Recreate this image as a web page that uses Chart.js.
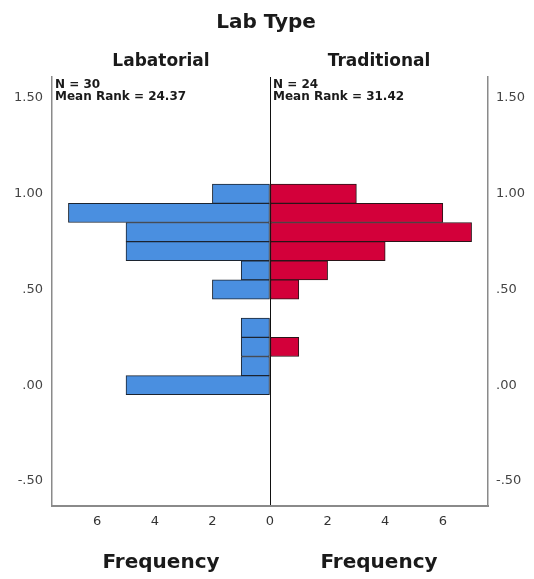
<!DOCTYPE html>
<html>
<head>
<meta charset="utf-8">
<script src="https://cdn.jsdelivr.net/npm/chart.js@4"></script>
<style>
  body { margin: 0; background: #fff; }
  #wrap { width: 534px; height: 579px; }
</style>
</head>
<body>
<div id="wrap"><canvas id="myChart"></canvas></div>
<script>
const binCenters = [1.0, 0.9, 0.8, 0.7, 0.6, 0.5, 0.4, 0.3, 0.2, 0.1, 0.0];
const labatorialCounts = [2, 7, 5, 5, 1, 2, 0, 1, 1, 1, 5];
const traditionalCounts = [3, 6, 7, 4, 2, 1, 0, 0, 1, 0, 0];
const yTickValues = [1.5, 1.0, 0.5, 0.0, -0.5];
const xTickValues = [-6, -4, -2, 0, 2, 4, 6];
const groupNames = ["Labatorial", "Traditional"];
const groupStats = [
  ["N = 30", "Mean Rank = 24.37"],
  ["N = 24", "Mean Rank = 31.42"],
];

const FONT = "'DejaVu Sans', sans-serif";

// left side is drawn as negative frequencies
function toPoints(counts, sign) {
  return binCenters
    .map((y, i) => ({ x: sign * counts[i], y: y }))
    .filter((p) => p.x !== 0);
}

function fmtY(v) {
  return v.toFixed(2).replace(/^(-?)0\./, "$1.");
}

const textPlugin = {
  id: "pyramidText",
  afterDraw(chart) {
    const { ctx, chartArea, scales } = chart;
    const mid = scales.x.getPixelForValue(0);
    const halves = [(chartArea.left + mid) / 2, (mid + chartArea.right) / 2];
    ctx.save();
    ctx.fillStyle = "#1a1a1a";
    ctx.textAlign = "center";
    ctx.textBaseline = "middle";
    ctx.font = "bold 20px " + FONT;
    ctx.fillText("Lab Type", 266, 23);
    ctx.font = "bold 17px " + FONT;
    groupNames.forEach((name, i) => ctx.fillText(name, halves[i], 62));
    ctx.font = "bold 20px " + FONT;
    halves.forEach((x) => ctx.fillText("Frequency", x, 563));
    ctx.textAlign = "left";
    ctx.textBaseline = "alphabetic";
    ctx.font = "bold 12px " + FONT;
    const starts = [chartArea.left + 3, mid + 3];
    groupStats.forEach((lines, i) => {
      lines.forEach((t, j) => ctx.fillText(t, starts[i], chartArea.top + 11 + j * 12));
    });
    ctx.restore();
  },
};

const tickFont = { family: FONT, size: 13 };

let ctx = document.getElementById("myChart").getContext("2d");
let myChart = new Chart(ctx, {
  type: "bar",
  data: {
    datasets: [
      {
        label: groupNames[0],
        data: toPoints(labatorialCounts, -1),
        backgroundColor: "#4a8fe0",
        borderColor: "#1c2430",
        borderWidth: 1,
        borderSkipped: false,
        grouped: false,
        barPercentage: 1,
        categoryPercentage: 1,
      },
      {
        label: groupNames[1],
        data: toPoints(traditionalCounts, 1),
        backgroundColor: "#d3003a",
        borderColor: "#2a1418",
        borderWidth: 1,
        borderSkipped: false,
        grouped: false,
        barPercentage: 1,
        categoryPercentage: 1,
      },
    ],
  },
  options: {
    indexAxis: "y",
    responsive: true,
    maintainAspectRatio: false,
    animation: false,
    layout: { padding: { top: 77, left: 0, right: 0, bottom: 0 } },
    plugins: {
      legend: { display: false },
      tooltip: { enabled: false },
    },
    scales: {
      x: {
        type: "linear",
        min: -7.57,
        max: 7.57,
        afterBuildTicks: (scale) => {
          scale.ticks = xTickValues.map((v) => ({ value: v }));
        },
        afterFit: (scale) => {
          scale.height = 73;
        },
        ticks: {
          callback: (v) => Math.abs(v),
          font: tickFont,
          color: "#333",
          padding: 8,
          maxRotation: 0,
        },
        grid: {
          drawTicks: false,
          color: (c) => (c.tick && c.tick.value === 0 ? "#111" : "rgba(0,0,0,0)"),
          lineWidth: 1,
        },
        border: { display: true, color: "#8a8a8a", width: 2 },
      },
      y: {
        type: "linear",
        position: "left",
        offset: false,
        min: -0.631,
        max: 1.61,
        afterBuildTicks: (scale) => {
          scale.ticks = yTickValues.map((v) => ({ value: v }));
        },
        afterFit: (scale) => {
          scale.width = 52;
        },
        ticks: { callback: fmtY, font: tickFont, color: "#444", padding: 9 },
        grid: { display: false, drawTicks: false },
        border: { display: true, color: "#8a8a8a", width: 1.5 },
      },
      y2: {
        type: "linear",
        position: "right",
        offset: false,
        min: -0.631,
        max: 1.61,
        afterBuildTicks: (scale) => {
          scale.ticks = yTickValues.map((v) => ({ value: v }));
        },
        afterFit: (scale) => {
          scale.width = 46;
        },
        ticks: { callback: fmtY, font: tickFont, color: "#444", padding: 8 },
        grid: { display: false, drawTicks: false },
        border: { display: true, color: "#8a8a8a", width: 1.5 },
      },
    },
  },
  plugins: [textPlugin],
});
</script>
</body>
</html>
